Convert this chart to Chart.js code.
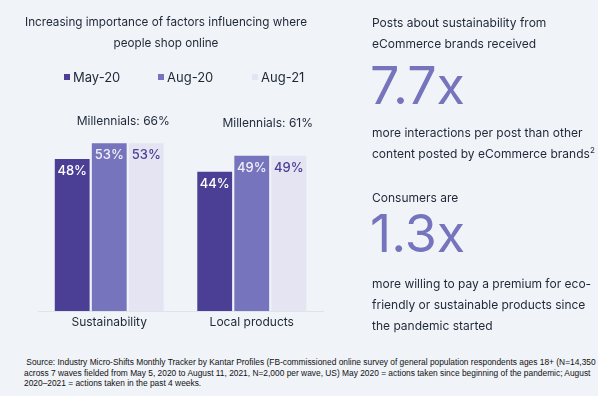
<!DOCTYPE html>
<html>
<head>
<meta charset="utf-8">
<script src="https://cdn.jsdelivr.net/npm/chart.js@4"></script>
<style>
  body { margin: 0; background: #f0f3f7; font-family: Inter, "Noto Sans", sans-serif; color: #1e2838; }
  #wrap { position: relative; width: 598px; height: 396px; overflow: hidden; }
  #grafico { position: absolute; left: 0; top: 0; }
  .titulo { position: absolute; left: 0; top: 12px; width: 332px; text-align: center; font-size: 11.7px; line-height: 21px; white-space: nowrap; }
  #legenda { position: absolute; left: 64px; top: 69px; display: flex; font-size: 13px; line-height: 16px; }
  #legenda span { display: flex; align-items: center; width: 94px; white-space: nowrap; }
  #legenda i { display: inline-block; width: 6px; height: 6px; margin-right: 3px; }
  .lado { position: absolute; left: 372px; font-size: 12px; line-height: 21px; white-space: nowrap; }
  .grande { position: absolute; left: 370px; font-size: 52px; line-height: 50px; color: #7674bc; }
  .fonte { position: absolute; left: 24px; top: 357px; font-family: "Liberation Sans", Arial, sans-serif; font-size: 8.4px; line-height: 10.5px; color: #111; white-space: nowrap; }
</style>
</head>
<body>
<div id="wrap">
  <canvas id="grafico" width="340" height="340"></canvas>
  <div class="titulo">Increasing importance of factors influencing where<br>people shop online</div>
  <div id="legenda"></div>

  <div class="lado" style="top:12px">Posts about sustainability from<br>eCommerce brands received</div>
  <div class="grande" style="top:61px">7.7x</div>
  <div class="lado" style="top:122px">more interactions per post than other<br>content posted by eCommerce brands<sup style="font-size:8px;line-height:0">2</sup></div>
  <div class="lado" style="top:187px">Consumers are</div>
  <div class="grande" style="top:209px">1.3x</div>
  <div class="lado" style="top:273px">more willing to pay a premium for eco-<br>friendly or sustainable products since<br>the pandemic started</div>

  <div class="fonte">&nbsp;Source: Industry Micro-Shifts Monthly Tracker by Kantar Profiles (FB-commissioned online survey of general population respondents ages 18+ (N=14,350<br>across 7 waves fielded from May 5, 2020 to August 11, 2021, N=2,000 per wave, US) May 2020 = actions taken since beginning of the pandemic; August<br>2020–2021 = actions taken in the past 4 weeks.</div>
</div>

<script>
// dados
const categorias = ['Sustainability', 'Local products'];
const series = ['May-20', 'Aug-20', 'Aug-21'];
const valoresMay20 = [48, 44];
const valoresAug20 = [53, 49];
const valoresAug21 = [53, 49];
const millennials = ['Millennials: 66%', 'Millennials: 61%'];

const cores = ['#4b3f95', '#7674bc', '#e4e4f3'];
const coresRotulo = ['#ffffff', '#f0f0fa', '#4b3f95'];
const corTexto = '#1e2838';

// legenda em html
document.getElementById('legenda').innerHTML = series
    .map((s, i) => `<span><i style="background:${cores[i]}"></i>${s}</span>`)
    .join('');

// rótulos de valor dentro das barras + texto dos millennials
const rotulos = {
    id: 'rotulos',
    afterDatasetsDraw(chart) {
        const ctx = chart.ctx;
        ctx.save();
        ctx.textAlign = 'center';
        ctx.textBaseline = 'middle';
        ctx.font = '500 13px Inter, sans-serif';
        chart.data.datasets.forEach((ds, i) => {
            chart.getDatasetMeta(i).data.forEach((bar, j) => {
                ctx.fillStyle = coresRotulo[i];
                ctx.fillText(ds.data[j] + '%', bar.x, bar.y + 12);
            });
        });
        const xs = chart.scales.x;
        const desloc = [[14, 121], [16, 123]];
        ctx.fillStyle = corTexto;
        ctx.font = '12px Inter, sans-serif';
        millennials.forEach((txt, j) => {
            ctx.fillText(txt, xs.getPixelForValue(j) + desloc[j][0], desloc[j][1]);
        });
        ctx.restore();
    }
};

new Chart(document.getElementById('grafico'), {
    type: 'bar',
    data: {
        labels: categorias,
        datasets: [
            { label: series[0], data: valoresMay20, backgroundColor: cores[0] },
            { label: series[1], data: valoresAug20, backgroundColor: cores[1] },
            { label: series[2], data: valoresAug21, backgroundColor: cores[2] }
        ]
    },
    options: {
        responsive: false,
        animation: false,
        barPercentage: 0.94,
        categoryPercentage: 0.78,
        layout: { padding: { left: 38, right: 17, top: 121, bottom: 6.6 } },
        plugins: {
            legend: { display: false },
            tooltip: { enabled: false }
        },
        scales: {
            x: {
                grid: { display: false, drawTicks: false },
                border: { color: '#dfe3ea' },
                ticks: { color: corTexto, font: { size: 12, family: 'Inter' }, padding: 4 }
            },
            y: { display: false, min: 0, max: 60 }
        }
    },
    plugins: [rotulos]
});
</script>
</body>
</html>
